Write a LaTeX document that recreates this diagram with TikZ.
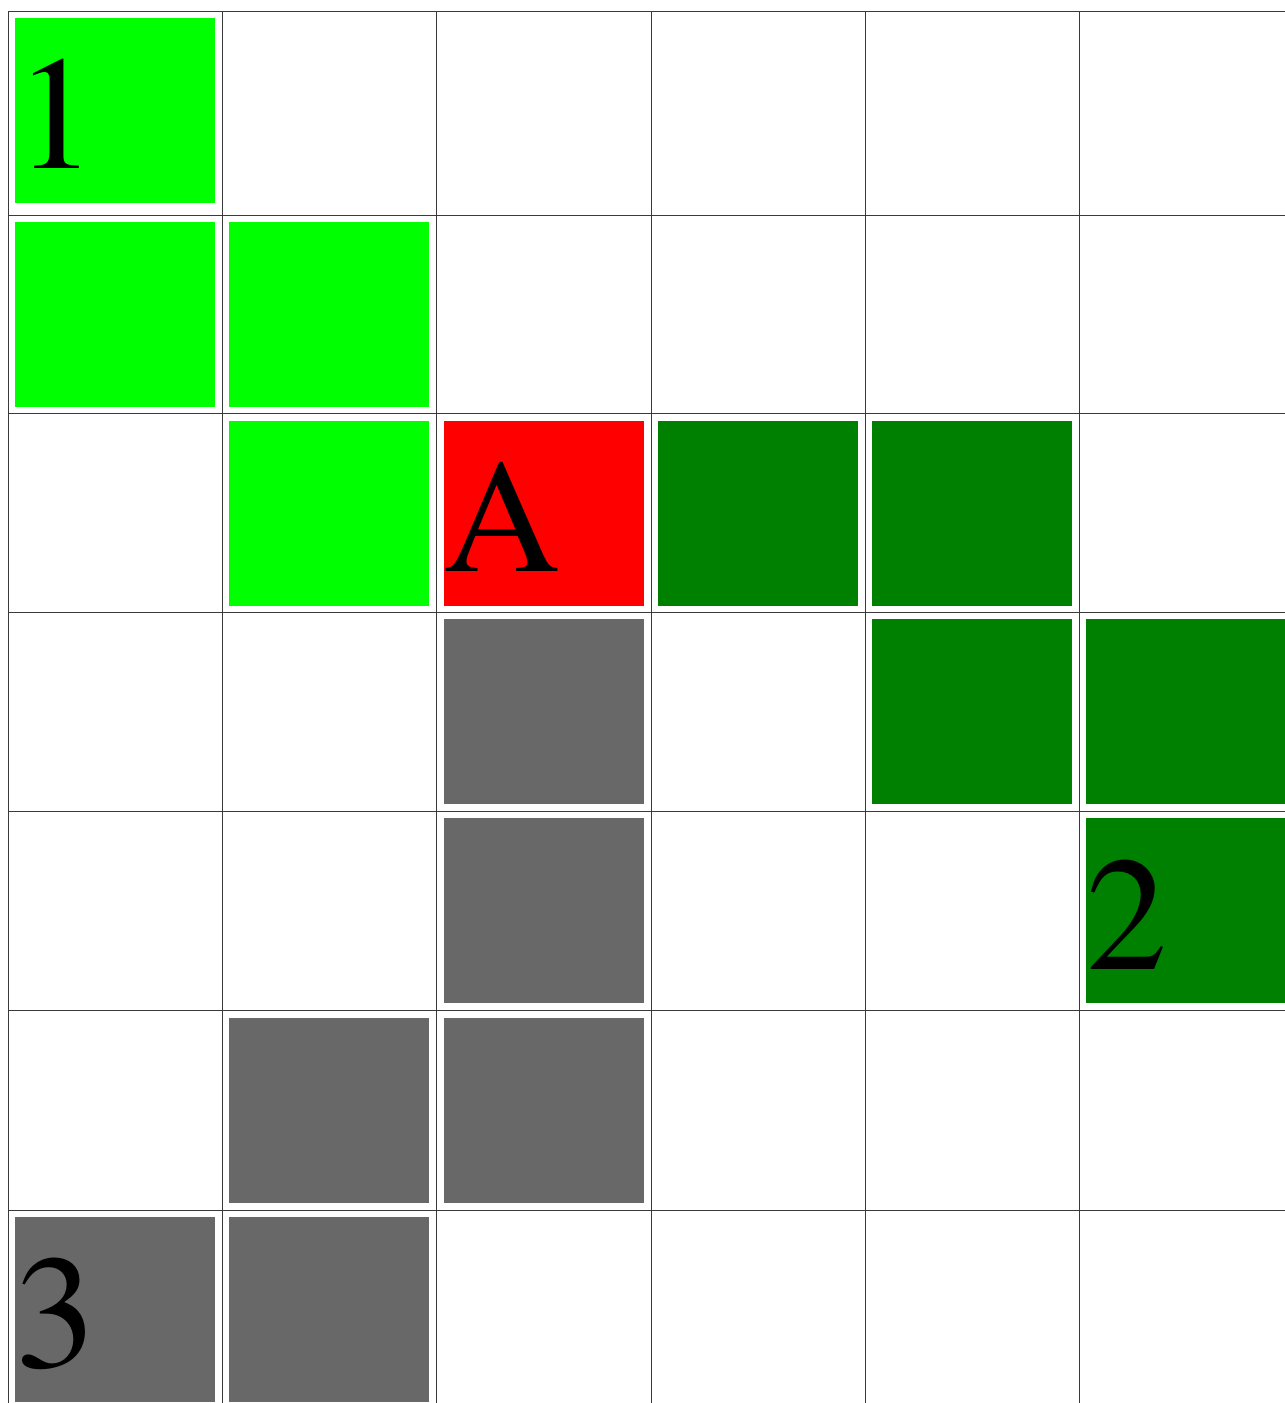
\documentclass[tikz,border=0pt]{standalone}
\usepackage[T1]{fontenc}
\usepackage{times}
\definecolor{limeg}{HTML}{00FF00}
\definecolor{darkg}{HTML}{008000}
\definecolor{redc}{HTML}{FF0000}
\definecolor{grayc}{HTML}{686868}
\definecolor{gridc}{HTML}{3A3A3A}
\begin{document}
\begin{tikzpicture}[x=1pt,y=-1pt,
  cellbox/.style={anchor=north west, inner sep=0pt, outer sep=0pt, minimum width=200pt, minimum height=185pt, draw=none},
  gridline/.style={draw=gridc, line width=1pt},
  bigtext/.style={anchor=base west, inner sep=0pt, outer sep=0pt, font=\fontsize{162}{162}\selectfont, text=black}]
\clip (0,0) rectangle (1285,1403);
\fill[white] (0,0) rectangle (1285,1403);
% grid lines
\foreach \yy in {11,215,413.7,612.3,811,1010.7,1210}
  \draw[gridline] (8,\yy) -- (1290,\yy);
\foreach \xx in {8,222.3,436.5,651,865,1079}
  \draw[gridline] (\xx,11) -- (\xx,1410);
% boxes (col x + 7, row y + 7)
\node[cellbox, fill=limeg] (b00) at (15,18) {};
\node[cellbox, fill=limeg] (b10) at (15,222) {};
\node[cellbox, fill=limeg] (b11) at (229.3,222) {};
\node[cellbox, fill=limeg] (b21) at (229.3,420.7) {};
\node[cellbox, fill=redc] (b22) at (443.5,420.7) {};
\node[cellbox, fill=darkg] (b23) at (658,420.7) {};
\node[cellbox, fill=darkg] (b24) at (872,420.7) {};
\node[cellbox, fill=grayc] (b32) at (443.5,619.3) {};
\node[cellbox, fill=darkg] (b34) at (872,619.3) {};
\node[cellbox, fill=darkg] (b35) at (1086,619.3) {};
\node[cellbox, fill=grayc] (b42) at (443.5,818) {};
\node[cellbox, fill=darkg] (b45) at (1086,818) {};
\node[cellbox, fill=grayc] (b51) at (229.3,1017.7) {};
\node[cellbox, fill=grayc] (b52) at (443.5,1017.7) {};
\node[cellbox, fill=grayc] (b60) at (15,1217) {};
\node[cellbox, fill=grayc] (b61) at (229.3,1217) {};
% labels
\node[bigtext] (t1) at (15,168) {1};
\node[bigtext] (tA) at (443.5,571) {A};
\node[bigtext] (t2) at (1086,969) {2};
\node[bigtext] (t3) at (15,1367) {3};
\end{tikzpicture}
\end{document}
